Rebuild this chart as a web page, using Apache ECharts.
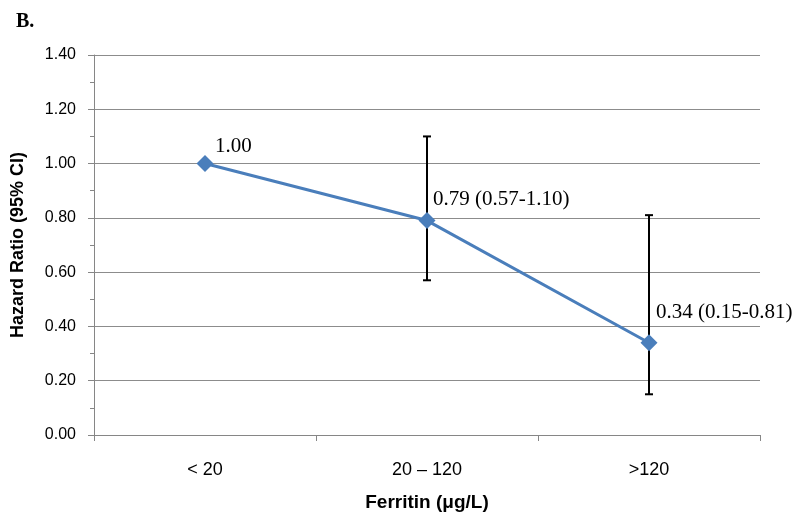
<!DOCTYPE html>
<html>
<head>
<meta charset="utf-8">
<script src="https://cdn.jsdelivr.net/npm/echarts@6/dist/echarts.min.js"></script>
<style>
  html, body { margin: 0; padding: 0; background: #fff; }
  #main { width: 802px; height: 519px; }
</style>
</head>
<body>
<div id="main"></div>
<script>
// data
var categories = ['< 20', '20 \u2013 120', '>120'];
var hazardRatio = [1.00, 0.79, 0.34];
var ciLow = [null, 0.57, 0.15];
var ciHigh = [null, 1.10, 0.81];
var yTicks = [0, 0.2, 0.4, 0.6, 0.8, 1.0, 1.2, 1.4];

// label offsets (style only)
var labelOffsets = [[10, -17], [6, -21], [7, -30]];

var chart = echarts.init(document.getElementById('main'));

var lineData = [];
for (var i = 0; i < hazardRatio.length; i++) {
  lineData.push({
    value: hazardRatio[i],
    label: { offset: labelOffsets[i] }
  });
}
var errData = [];
for (var j = 0; j < categories.length; j++) {
  if (ciLow[j] != null) errData.push([j, ciLow[j], ciHigh[j]]);
}

var option = {
  backgroundColor: '#fff',
  animation: false,
  title: {
    text: 'B.',
    left: 11, top: 7,
    textStyle: { fontFamily: 'Liberation Serif', fontWeight: 'bold', fontSize: 20, color: '#000' }
  },
  grid: { left: 94, right: 42, top: 55, bottom: 84 },
  xAxis: {
    type: 'category',
    data: categories,
    boundaryGap: true,
    name: 'Ferritin (\u03bcg/L)',
    nameLocation: 'middle',
    nameGap: 58,
    nameTextStyle: { fontFamily: 'Liberation Sans', fontWeight: 'bold', fontSize: 19, color: '#000' },
    axisLine: { lineStyle: { color: '#868686', width: 1 } },
    axisTick: { show: true, length: 6, alignWithLabel: false, lineStyle: { color: '#868686' } },
    axisLabel: { fontFamily: 'Liberation Sans', fontSize: 18, color: '#000', margin: 26 }
  },
  yAxis: {
    type: 'value',
    min: yTicks[0],
    max: yTicks[yTicks.length - 1],
    interval: 0.2,
    name: 'Hazard Ratio (95% CI)',
    nameLocation: 'middle',
    nameGap: 67,
    nameRotate: 90,
    nameTextStyle: { fontFamily: 'Liberation Sans', fontWeight: 'bold', fontSize: 18, color: '#000' },
    axisLine: { show: true, lineStyle: { color: '#868686', width: 1 } },
    axisTick: { show: true, length: 6, lineStyle: { color: '#868686' } },
    minorTick: { show: true, splitNumber: 2, length: 4, lineStyle: { color: '#868686' } },
    splitLine: { show: true, lineStyle: { color: '#8c8c8c', width: 1 } },
    axisLabel: {
      fontFamily: 'Liberation Sans', fontSize: 16, color: '#000', margin: 18,
      formatter: function (v) { return v.toFixed(2); }
    }
  },
  series: [
    {
      type: 'custom',
      z: 1,
      data: errData,
      renderItem: function (params, api) {
        var x = api.value(0);
        var lo = api.coord([x, api.value(1)]);
        var hi = api.coord([x, api.value(2)]);
        var cap = 4;
        var st = { stroke: '#000', lineWidth: 2 };
        return {
          type: 'group',
          children: [
            { type: 'line', shape: { x1: lo[0], y1: lo[1], x2: hi[0], y2: hi[1] }, style: st },
            { type: 'line', shape: { x1: hi[0] - cap, y1: hi[1], x2: hi[0] + cap, y2: hi[1] }, style: st },
            { type: 'line', shape: { x1: lo[0] - cap, y1: lo[1], x2: lo[0] + cap, y2: lo[1] }, style: st }
          ]
        };
      }
    },
    {
      type: 'line',
      z: 3,
      data: lineData,
      symbol: 'diamond',
      symbolSize: 17,
      lineStyle: { color: '#4a7ebb', width: 3 },
      itemStyle: { color: '#4a7ebb' },
      label: {
        show: true,
        position: 'inside',
        align: 'left',
        fontFamily: 'Liberation Serif',
        fontSize: 21,
        color: '#000',
        formatter: function (p) {
          var k = p.dataIndex;
          var s = hazardRatio[k].toFixed(2);
          if (ciLow[k] != null) s += ' (' + ciLow[k].toFixed(2) + '-' + ciHigh[k].toFixed(2) + ')';
          return s;
        }
      }
    }
  ]
};

chart.setOption(option);
</script>
</body>
</html>
